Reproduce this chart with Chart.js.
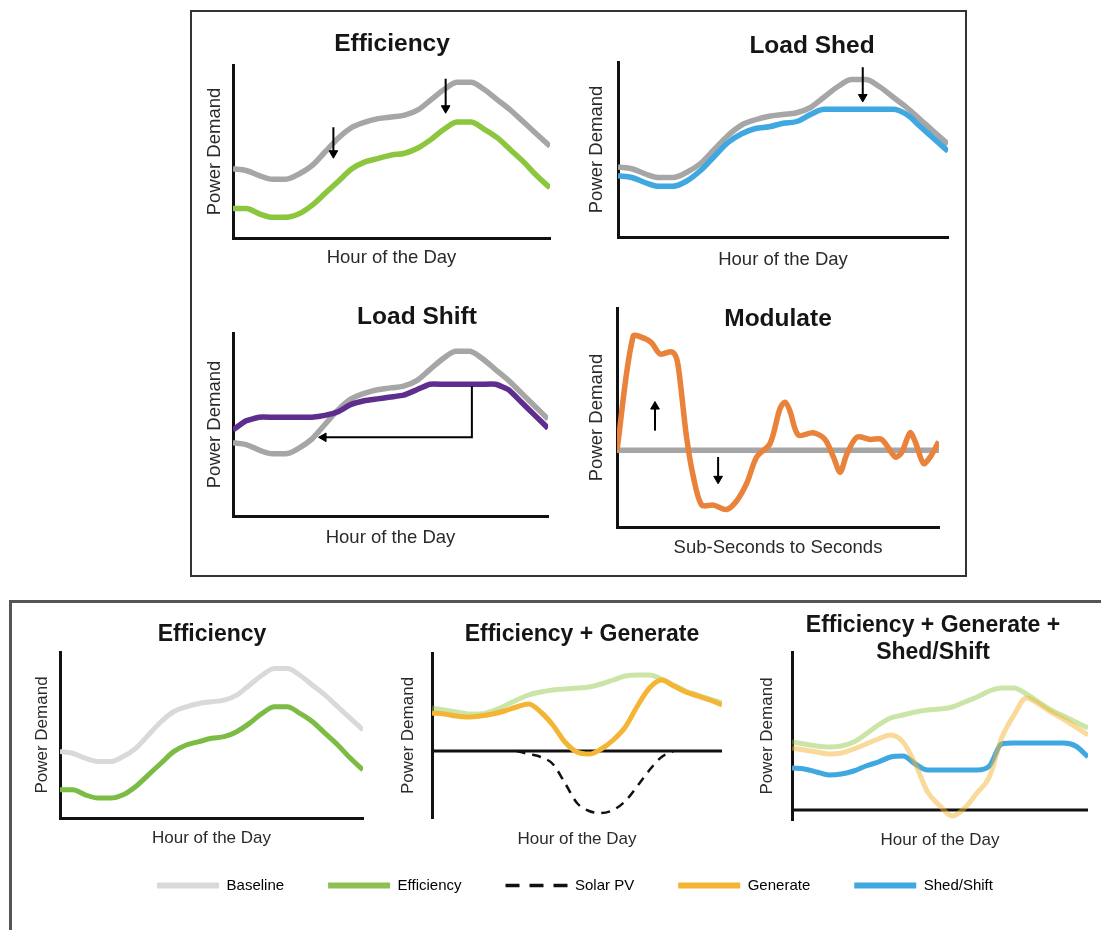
<!DOCTYPE html>
<html>
<head>
<meta charset="utf-8">
<script src="https://cdn.jsdelivr.net/npm/chart.js@4.4.1/dist/chart.umd.min.js"></script>
<style>
  html, body { margin: 0; padding: 0; background: #fff; }
  body { position: relative; width: 1101px; height: 930px; overflow: hidden; }
  .frame { position: absolute; box-sizing: border-box; }
  #topFrame { left: 190px; top: 10px; width: 777px; height: 567px; border: 2px solid #333; }
  #bottomFrame { left: 9px; top: 600px; width: 1110px; height: 340px; border-top: 3px solid #555; border-left: 3px solid #555; }
  .panel { position: absolute; }
</style>
</head>
<body>
<div class="frame" id="topFrame"></div>
<div class="frame" id="bottomFrame"></div>
<script>
// values, y is relative power demand
const hours = [0,1,2,3,4,5,6,7,8,9,10,11,12,13,14,15,16,17,18,19,20,21,22,23,24];
const baseline   = [40,39,36,34,34,37,42,50,58,64,67,69,70,71,74,80,86,90,90,86,80,74,67,60,53];
const efficiency = [17,17,14,12,12,14,19,26,33,40,44,46,48,49,52,57,63,67,67,63,58,51,44,36,29];
const loadShed   = [35,34,31,29,29,32,38,46,54,59,62,63,65,66,70,73,73,73,73,73,73,70,63,56,49];
const loadShift  = [47,52,54,54,54,54,54,55,57,61,63,64,65,66,69,72,72,72,72,72,72,69,62,55,48];

// modulate panel: time runs 0..100 along the axis
const modTime   = [0,5,8.7,10.8,13.4,17,18.5,19.5,21.6,23.7,26.3,29.9,34.1,37.2,40.3,43.4,47.5,50.6,52.2,53.7,56.3,60.9,64.6,67.2,69.3,71.3,74.5,78.6,82.2,86.4,88.4,91,92.6,95.2,97.3,99.9];
const modDemand = [35,87,86,84,79,80,77,68,41,23,10,10,8,12,20,32,38,54,57,53,42,43,40,32,25,33,41,40,40,32,34,43,39,29,32,39];
const modBaseX  = [0,100];
const modBaseY  = [35,35];

// bottom panels, demand measured from the zero line
const effGen    = [43,41,39,37,37,40,45,51,56,59,61,62,63,64,67,71,75,76,76,72,66,60,56,52,48];
const generate  = [38,37,35,34,35,37,40,44,47,39,26,9,-1,-3,2,11,24,45,63,71,65,59,55,51,46];
const solarPV   = [null,null,null,null,null,null,null,0,-3,-6,-13,-32,-52,-60,-62,-59,-50,-35,-19,-6,0,null,null,null,null];
const effCombo  = [68,66,64,63,64,68,76,85,92,95,98,100,101,103,108,113,119,122,122,116,108,100,94,88,82];
const genCombo  = [62,60,58,56,57,61,66,71,75,68,46,18,4,-6,2,17,33,72,95,112,106,98,91,83,75];
const shedShift = [42,41,38,35,36,39,44,48,53,54,46,40,40,40,40,40,44,66,67,67,67,67,67,64,53];
const zeroX = [0,24];
const zeroY = [0,0];

// arrows (start, head)
const effArrow1X = [7.6,7.6],   effArrow1Y = [64,49];
const effArrow2X = [16.1,16.1], effArrow2Y = [92,75];
const shedArrowX = [17.8,17.8], shedArrowY = [97,80];
const shiftArrowX = [18.2,18.2,6.9], shiftArrowY = [71,43,43];
const upArrowX = [11.8,11.8],   upArrowY = [44,55];
const downArrowX = [31.4,31.4], downArrowY = [32,22];

const legendLabels = ['Baseline','Efficiency','Solar PV','Generate','Shed/Shift'];

Chart.defaults.font.family = "'Liberation Sans', Arial, sans-serif";
Chart.defaults.color = '#2a2a2a';
Chart.defaults.animation = false;
Chart.defaults.plugins.legend.display = false;
Chart.defaults.plugins.tooltip.enabled = false;

const pts = (xs, ys) => xs.map((x, i) => ({x: x, y: ys[i]})).filter(p => p.y !== null);

function curve(xs, ys, color, width, extra) {
  return Object.assign({
    data: pts(xs, ys), borderColor: color, borderWidth: width,
    pointRadius: 0, fill: false, cubicInterpolationMode: 'monotone'
  }, extra || {});
}

function arrow(xs, ys, rot) {
  return {
    data: pts(xs, ys), borderColor: '#000', borderWidth: 2, tension: 0,
    pointStyle: 'triangle', rotation: rot,
    pointRadius: ctx => ctx.dataIndex === xs.length - 1 ? 5 : 0,
    pointBackgroundColor: '#000', pointBorderColor: '#000', pointBorderWidth: 1
  };
}

function panel(g, datasets, xMax, yMin, yMax, xAxisLine) {
  const tLH = g.tSize * g.tLine;
  const lLH = g.lSize * 1.2;
  const [al, at, ar, ab] = g.area;
  const nLines = Array.isArray(g.title) ? g.title.length : 1;
  const left = Math.floor(Math.min(2 * g.titleX - ar, g.yLabX - lLH / 2));
  const right = Math.round(2 * g.titleX - left);
  const top = Math.round(g.titleY - tLH / 2);
  const bottom = Math.round(g.xLabY + lLH / 2);

  const div = document.createElement('div');
  div.className = 'panel';
  div.style.left = left + 'px';
  div.style.top = top + 'px';
  div.style.width = (right - left) + 'px';
  div.style.height = (bottom - top) + 'px';
  const cv = document.createElement('canvas');
  div.appendChild(cv);
  document.body.appendChild(div);

  const hidden = {grid: {display: false}, ticks: {display: false}};
  return new Chart(cv, {
    type: 'line',
    data: {datasets: datasets},
    options: {
      responsive: true, maintainAspectRatio: false,
      layout: {padding: 0},
      plugins: {
        title: {
          display: true, text: g.title, color: '#151515',
          font: {size: g.tSize, weight: 'bold', lineHeight: g.tLine},
          padding: {top: 0, bottom: at - top - tLH * nLines}
        }
      },
      scales: {
        x: Object.assign({
          type: 'linear', min: 0, max: xMax,
          border: {display: xAxisLine, color: '#111', width: 3},
          title: {display: true, text: g.xLab, font: {size: g.lSize}, padding: {top: 0, bottom: bottom - g.xLabY - lLH / 2}},
          afterFit: s => { s.height = bottom - ab; }
        }, hidden),
        y: Object.assign({
          type: 'linear', min: yMin, max: yMax,
          border: {display: true, color: '#111', width: 3},
          title: {display: true, text: 'Power Demand', font: {size: g.lSize}, padding: {top: g.yLabX - lLH / 2 - left, bottom: 0}},
          afterFit: s => { s.width = al - left; }
        }, hidden),
        pad: Object.assign({
          type: 'linear', position: 'right', display: true,
          border: {display: false},
          afterFit: s => { s.width = right - ar; }
        }, hidden)
      }
    }
  });
}

// top block
panel({area: [233, 65, 550, 238], title: 'Efficiency', titleX: 392, titleY: 45, yLabX: 215, xLabY: 258,
       xLab: 'Hour of the Day', tSize: 24.5, tLine: 1.2, lSize: 18.5},
  [arrow(effArrow1X, effArrow1Y, 180), arrow(effArrow2X, effArrow2Y, 180),
   curve(hours, efficiency, '#8cc63e', 5.5), curve(hours, baseline, '#a6a6a6', 5.5)],
  24, 0, 100, true);

panel({area: [618, 62, 948, 237], title: 'Load Shed', titleX: 812, titleY: 47, yLabX: 597, xLabY: 260,
       xLab: 'Hour of the Day', tSize: 24.5, tLine: 1.2, lSize: 18.5},
  [arrow(shedArrowX, shedArrowY, 180),
   curve(hours, loadShed, '#3fa8e0', 5.5), curve(hours, baseline, '#a6a6a6', 5.5)],
  24, 0, 100, true);

panel({area: [233, 333, 548, 516], title: 'Load Shift', titleX: 417, titleY: 318, yLabX: 215, xLabY: 538,
       xLab: 'Hour of the Day', tSize: 24.5, tLine: 1.2, lSize: 18.5},
  [arrow(shiftArrowX, shiftArrowY, 270),
   curve(hours, loadShift, '#5e2e8f', 5.5, {cubicInterpolationMode: 'default', tension: 0.15}),
   curve(hours, baseline, '#a6a6a6', 5.5)],
  24, 0, 100, true);

panel({area: [617, 305, 939, 527], title: 'Modulate', titleX: 778, titleY: 317, yLabX: 597, xLabY: 548,
       xLab: 'Sub-Seconds to Seconds', tSize: 24.5, tLine: 1.2, lSize: 18.5},
  [arrow(upArrowX, upArrowY, 0), arrow(downArrowX, downArrowY, 180),
   curve(modTime, modDemand, '#e9823a', 5.5, {cubicInterpolationMode: 'default', tension: 0.3}),
   curve(modBaseX, modBaseY, '#a6a6a6', 5.5)],
  100, 0, 100, true);

// bottom block
panel({area: [60, 652, 363, 818], title: 'Efficiency', titleX: 212, titleY: 635, yLabX: 42, xLabY: 838,
       xLab: 'Hour of the Day', tSize: 23, tLine: 1.2, lSize: 17},
  [curve(hours, efficiency, '#7cbc44', 5), curve(hours, baseline, '#d9d9d9', 5)],
  24, 0, 100, true);

panel({area: [432, 653, 722, 818], title: 'Efficiency + Generate', titleX: 582, titleY: 635, yLabX: 408, xLabY: 839,
       xLab: 'Hour of the Day', tSize: 23, tLine: 1.2, lSize: 17},
  [curve(hours, generate, '#f4b535', 5),
   curve(hours, solarPV, '#111', 2.5, {borderDash: [9, 7]}),
   curve(zeroX, zeroY, '#111', 3),
   curve(hours, effGen, 'rgba(140,198,63,0.45)', 5)],
  24, -67, 98, false);

panel({area: [792, 652, 1088, 820], title: ['Efficiency + Generate +', 'Shed/Shift'], titleX: 933, titleY: 625,
       yLabX: 767, xLabY: 840, xLab: 'Hour of the Day', tSize: 23, tLine: 27 / 23, lSize: 17},
  [curve(hours, genCombo, 'rgba(244,181,53,0.5)', 5),
   curve(hours, effCombo, 'rgba(140,198,63,0.45)', 5),
   curve(hours, shedShift, '#3fa8e0', 5),
   curve(zeroX, zeroY, '#111', 3)],
  24, -10, 158, false);

// shared legend for the bottom block
const legendColors = ['#d9d9d9', '#8cc152', '#111', '#f4b535', '#3fa8e0'];
const legDiv = document.createElement('div');
legDiv.className = 'panel';
Object.assign(legDiv.style, {left: '95px', top: '834px', width: '960px', height: '240px'});
const legCv = document.createElement('canvas');
legDiv.appendChild(legCv);
document.body.appendChild(legDiv);
new Chart(legCv, {
  type: 'line',
  data: {datasets: legendLabels.map((l, i) => ({label: l, data: [], borderColor: legendColors[i]}))},
  options: {
    responsive: true, maintainAspectRatio: false,
    scales: {x: {display: false}, y: {display: false}},
    plugins: {
      legend: {
        display: true, position: 'top',
        labels: {
          usePointStyle: true, pointStyleWidth: 62, padding: 44, color: '#444',
          font: {size: 15},
          generateLabels: chart => chart.data.datasets.map((d, i) => ({
            text: d.label, strokeStyle: d.borderColor, fillStyle: d.borderColor,
            lineWidth: d.label === 'Solar PV' ? 3.5 : 6,
            lineDash: d.label === 'Solar PV' ? [14, 10] : [],
            pointStyle: 'line', hidden: false, datasetIndex: i
          }))
        }
      }
    }
  }
});
</script>
</body>
</html>
